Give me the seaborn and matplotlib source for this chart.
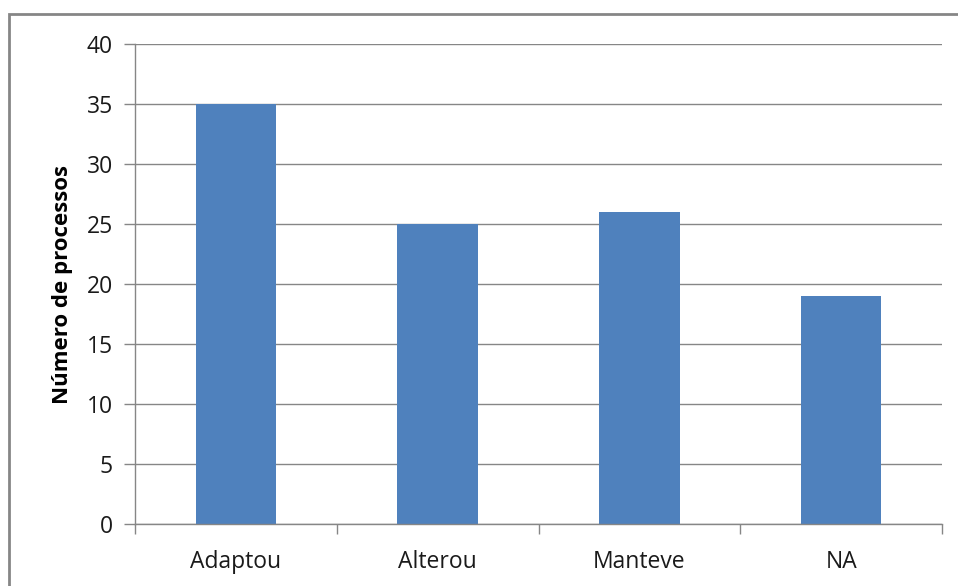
import matplotlib
matplotlib.use("Agg")
import matplotlib.pyplot as plt
import seaborn as sns
import pandas as pd
from matplotlib.patches import Rectangle

categories = ["Adaptou", "Alterou", "Manteve", "NA"]
values = [35, 25, 26, 19]
yticks = [0, 5, 10, 15, 20, 25, 30, 35, 40]

sns.set_theme(style="white")
plt.rcParams['font.family'] = ['Open Sans', 'DejaVu Sans']

df = pd.DataFrame({"cat": categories, "val": values})

W, H = 958, 586
fig = plt.figure(figsize=(W / 100, H / 100), dpi=100)
ax = fig.add_axes([135 / W, 1 - 524 / H, (942 - 135) / W, (524 - 44) / H])

sns.barplot(data=df, x="cat", y="val", color="#4F81BD", saturation=1, width=0.4,
            linewidth=0, ax=ax)

ax.set_xlim(-0.5, 3.5)
ax.set_ylim(0, 40)
ax.set_yticks(yticks)
ax.set_yticklabels([str(t) for t in yticks], fontsize=16.5, color="#1a1a1a")
ax.yaxis.grid(True, color="#868686", linewidth=1)
ax.set_axisbelow(True)
ax.set_xlabel("")
ax.set_ylabel("Número de processos", fontsize=16, fontweight="bold", color="black")
ax.yaxis.set_label_coords(-(135 - 73) / (942 - 135), 0.5)

# x ticks at category boundaries, labels at centers
ax.set_xticks([-0.5, 0.5, 1.5, 2.5, 3.5])
ax.set_xticklabels([])
ax.set_xticks([0, 1, 2, 3], minor=True)
ax.set_xticklabels(categories, minor=True, fontsize=16.5, color="#1a1a1a")
ax.tick_params(axis="x", which="major", length=7, width=1, color="#868686", direction="out", bottom=True)
ax.tick_params(axis="x", which="minor", length=0, pad=19)
ax.tick_params(axis="y", length=8, width=1, color="#868686", direction="out", left=True, pad=8)

for s in ["top", "right"]:
    ax.spines[s].set_visible(False)
for s in ["left", "bottom"]:
    ax.spines[s].set_color("#868686")
    ax.spines[s].set_linewidth(1)

# outer chart border
fig.patches.append(Rectangle((9 / W, -0.05), 1.1, 1 - 14 / H + 0.05, transform=fig.transFigure,
                             fill=False, edgecolor="#868686", linewidth=2))

fig.savefig("out.png", dpi=100)
